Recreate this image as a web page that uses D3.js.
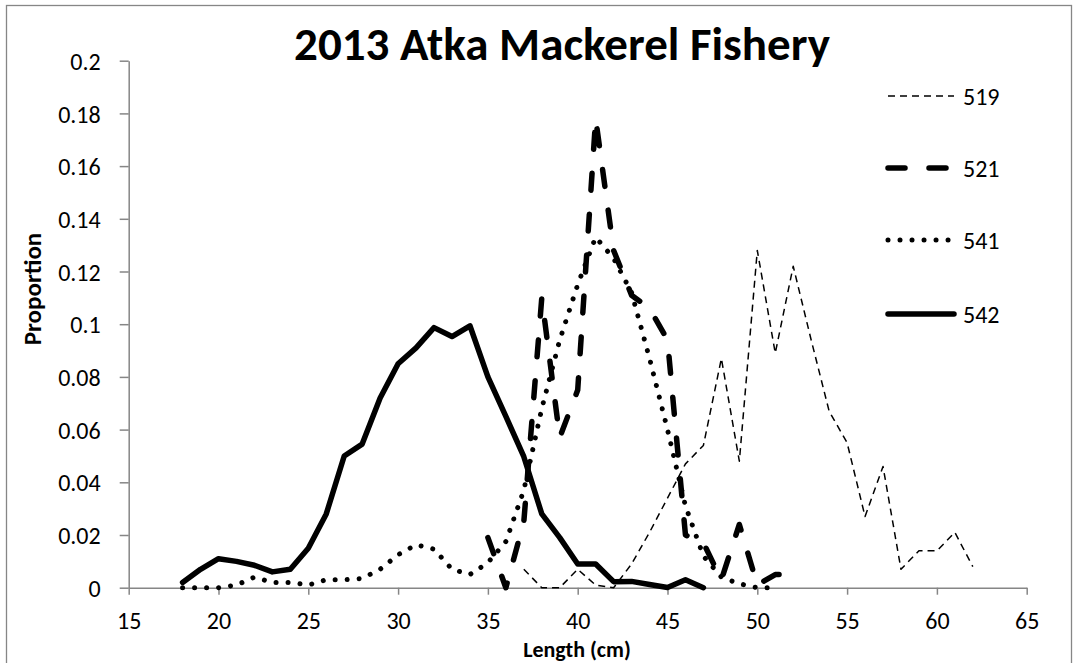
<!DOCTYPE html>
<html>
<head>
<meta charset="utf-8">
<script src="https://cdn.jsdelivr.net/npm/d3@7"></script>
<style>
  html, body { margin: 0; padding: 0; background: #fff; }
  svg text { font-family: Carlito, Calibri, Lato, sans-serif; fill: #000; }
</style>
</head>
<body>
<svg id="chart" width="1078" height="663"></svg>
<script>
// ---- data ----
const title = "2013 Atka Mackerel Fishery";
const xTitle = "Length (cm)";
const yTitle = "Proportion";
const seriesNames = ["519", "521", "541", "542"];

const len519 = [37,38,39,40,41,42,43,44,45,46,47,48,49,50,51,52,53,54,55,56,57,58,59,60,61,62];
const val519 = [0.007,0.000,0.000,0.007,0.001,0.000,0.009,0.021,0.034,0.047,0.054,0.087,0.048,0.128,0.089,0.122,0.094,0.067,0.055,0.027,0.046,0.007,0.014,0.014,0.021,0.008];

const len521 = [35,36,37,38,39,40,41,42,43,44,45,46,47,48,49,50,51,52];
const val521 = [0.019,0.000,0.025,0.110,0.057,0.075,0.178,0.128,0.111,0.106,0.094,0.020,0.017,0.003,0.024,0.001,0.005,0.005];

const len541 = [18,19,20,21,22,23,24,25,26,27,28,29,30,31,32,33,34,35,36,37,38,39,40,41,42,43,44,45,46,47,48,49,50,51];
const val541 = [0,0,0,0.001,0.004,0.002,0.002,0.001,0.003,0.003,0.0035,0.007,0.0125,0.0163,0.0146,0.007,0.005,0.0095,0.0175,0.037,0.068,0.094,0.115,0.133,0.125,0.112,0.087,0.060,0.031,0.012,0.004,0.0015,0,0];

const len542 = [18,19,20,21,22,23,24,25,26,27,28,29,30,31,32,33,34,35,36,37,38,39,40,41,42,43,44,45,46,47];
const val542 = [0.002,0.007,0.011,0.010,0.0085,0.006,0.007,0.015,0.028,0.050,0.0545,0.072,0.085,0.091,0.0987,0.0953,0.0994,0.080,0.065,0.0497,0.028,0.019,0.009,0.009,0.0023,0.0024,0.0012,0.0001,0.003,0.000];

const xTicks = [15,20,25,30,35,40,45,50,55,60,65];
const xTickLabels = ["15","20","25","30","35","40","45","50","55","60","65"];
const yTicks = [0,0.02,0.04,0.06,0.08,0.1,0.12,0.14,0.16,0.18,0.2];
const yTickLabels = ["0","0.02","0.04","0.06","0.08","0.1","0.12","0.14","0.16","0.18","0.2"];

// ---- styles ----
const styles = {
  "519": {width: 1.5, dash: "7,5", cap: "butt"},
  "521": {width: 5.5, dash: "17,24", cap: "round"},
  "541": {width: 5, dash: "0.01,12", cap: "round"},
  "542": {width: 5.5, dash: null, cap: "round"}
};

const svg = d3.select("#chart");
const axisColor = "#868686";

// chart border (bottom edge lies outside the picture)
svg.append("rect").attr("x", 6.5).attr("y", 5.5).attr("width", 1065).attr("height", 670)
  .attr("fill", "none").attr("stroke", axisColor).attr("stroke-width", 1.3);

const x = d3.scaleLinear().domain([15, 65]).range([128.7, 1026.7]);
const y = d3.scaleLinear().domain([0, 0.2]).range([587.7, 60.7]);

// axes
const xAxis = d3.axisBottom(x).tickValues(xTicks)
  .tickFormat((d, i) => xTickLabels[i]).tickSizeInner(7).tickSizeOuter(0).tickPadding(17);
const yAxis = d3.axisLeft(y).tickValues(yTicks)
  .tickFormat((d, i) => yTickLabels[i]).tickSizeInner(9).tickSizeOuter(0).tickPadding(19);

const gx = svg.append("g").attr("transform", `translate(0,${y(0)})`).call(xAxis);
const gy = svg.append("g").attr("transform", `translate(${x(15)},0)`).call(yAxis);
[gx, gy].forEach(g => {
  g.select(".domain").attr("stroke", axisColor).attr("stroke-width", 1.5);
  g.selectAll(".tick line").attr("stroke", axisColor).attr("stroke-width", 1.5);
  g.selectAll(".tick text").style("font-size", "24px").attr("fill", "#000");
});
gx.selectAll(".tick text").attr("dy", "0.71em");
gy.selectAll(".tick text").attr("dy", "0.36em");

// series
const seriesData = [
  {name: "519", xs: len519, ys: val519},
  {name: "521", xs: len521, ys: val521},
  {name: "541", xs: len541, ys: val541},
  {name: "542", xs: len542, ys: val542}
];
const line = d3.line().x(d => x(d[0])).y(d => y(d[1]));

seriesData.forEach(s => {
  const st = styles[s.name];
  const pts = s.xs.map((v, i) => [v, s.ys[i]]);
  svg.append("path").datum(pts).attr("d", line)
    .attr("fill", "none").attr("stroke", "#000")
    .attr("stroke-width", st.width)
    .attr("stroke-dasharray", st.dash)
    .attr("stroke-linecap", st.cap)
    .attr("stroke-linejoin", "round");
});

// legend
const legendY = [96, 168, 240, 314];
seriesNames.forEach((n, i) => {
  const st = styles[n];
  svg.append("line").attr("x1", 888).attr("x2", n === "541" ? 955 : 954)
    .attr("y1", legendY[i]).attr("y2", legendY[i])
    .attr("stroke", "#000").attr("stroke-width", st.width)
    .attr("stroke-dasharray", st.dash).attr("stroke-linecap", st.cap);
  svg.append("text").attr("x", 963).attr("y", legendY[i]).attr("dy", "0.36em")
    .style("font-size", "24px").text(n);
});

// titles
svg.append("text").attr("x", 562).attr("y", 60).attr("text-anchor", "middle")
  .style("font-size", "47px").style("font-weight", "bold").text(title);
svg.append("text").attr("x", 577).attr("y", 657).attr("text-anchor", "middle")
  .style("font-size", "22px").style("font-weight", "bold").text(xTitle);
svg.append("text").attr("transform", "translate(41,289) rotate(-90)")
  .attr("text-anchor", "middle")
  .style("font-size", "25px").style("font-weight", "bold").text(yTitle);
</script>
</body>
</html>
